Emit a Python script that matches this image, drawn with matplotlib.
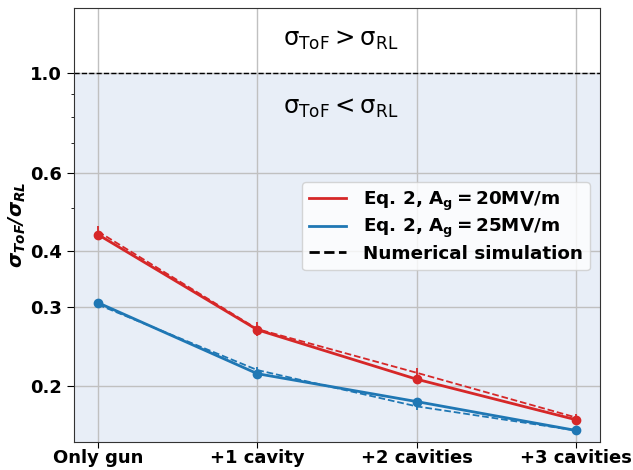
import matplotlib
matplotlib.use("Agg")
import matplotlib.pyplot as plt
import numpy as np
from matplotlib.ticker import FixedLocator, NullFormatter, LogLocator
from matplotlib.lines import Line2D

categories = ["Only gun", "+1 cavity", "+2 cavities", "+3 cavities"]
eq_20 = [0.436, 0.267, 0.207, 0.168]
eq_25 = [0.307, 0.213, 0.1845, 0.159]
sim_20 = [0.443, 0.268, 0.214, 0.170]
sim_20_err = [0.013, 0.010, 0.005, 0.003]
sim_25 = [0.304, 0.217, 0.180, 0.159]
sim_25_err = [0.006, 0.004, 0.003, 0.002]
yticks = [0.2, 0.3, 0.4, 0.6, 1.0]
ytick_labels = ["0.2", "0.3", "0.4", "0.6", "1.0"]

red = "#d62728"
blue = "#1f77b4"

fig = plt.figure(figsize=(6.33, 4.70), dpi=100)
ax = fig.add_axes([0.117, 0.06, 0.831, 0.923])
x = np.arange(len(categories))

ax.set_yscale("log")
ax.set_xlim(-0.15, 3.15)
ax.set_ylim(0.15, 1.4)
ax.axhspan(0.15, 1.0, color="#e8eef7", zorder=0)
ax.axhline(1.0, color="black", ls="--", lw=1, zorder=1)

ax.plot(x, eq_20, "-o", color=red, lw=2, ms=6, zorder=4)
ax.plot(x, eq_25, "-o", color=blue, lw=2, ms=6, zorder=4)
ax.errorbar(x, sim_20, yerr=sim_20_err, fmt="--", color=red, lw=1.3, elinewidth=1.3, zorder=3)
ax.errorbar(x, sim_25, yerr=sim_25_err, fmt="--", color=blue, lw=1.3, elinewidth=1.3, zorder=3)

handles = [
    Line2D([], [], color=red, lw=2),
    Line2D([], [], color=blue, lw=2),
    Line2D([], [], color="black", lw=2, ls="--"),
]
labels = [r"$\mathbf{Eq.\,2,\,A_g = 20MV/m}$", r"$\mathbf{Eq.\,2,\,A_g = 25MV/m}$", "Numerical simulation"]

ax.yaxis.set_major_locator(FixedLocator(yticks))
ax.set_yticklabels(ytick_labels)
ax.yaxis.set_minor_locator(LogLocator(base=10, subs=np.arange(1, 10), numticks=20))
ax.yaxis.set_minor_formatter(NullFormatter())
ax.set_xticks(x)
ax.set_xticklabels(categories)
for lab in ax.get_xticklabels() + ax.get_yticklabels():
    lab.set_fontweight("bold")
    lab.set_fontsize(13)
ax.tick_params(axis="y", which="major", length=5)
ax.tick_params(axis="x", which="major", length=4, pad=1.5)

ax.grid(True, which="major", color="#c0c0c0", lw=1, zorder=1)
ax.set_axisbelow(True)
ax.set_ylabel(r"$\mathbfit{\sigma_{ToF}/\sigma_{RL}}$", fontsize=14, labelpad=2)

ax.text(1.52, 1.19, r"$\mathregular{\sigma_{ToF} > \sigma_{RL}}$", fontsize=17.5, ha="center", va="center")
ax.text(1.52, 0.835, r"$\mathregular{\sigma_{ToF} < \sigma_{RL}}$", fontsize=17.5, ha="center", va="center")

leg = ax.legend(handles, labels, loc="upper right", bbox_to_anchor=(0.998, 0.62),
                prop={"weight": "bold", "size": 13.2}, framealpha=0.8, handlelength=2.0,
                handletextpad=0.9, labelspacing=0.25)
for sp in ax.spines.values():
    sp.set_color("#333333")

fig.savefig("out.png", dpi=100)
